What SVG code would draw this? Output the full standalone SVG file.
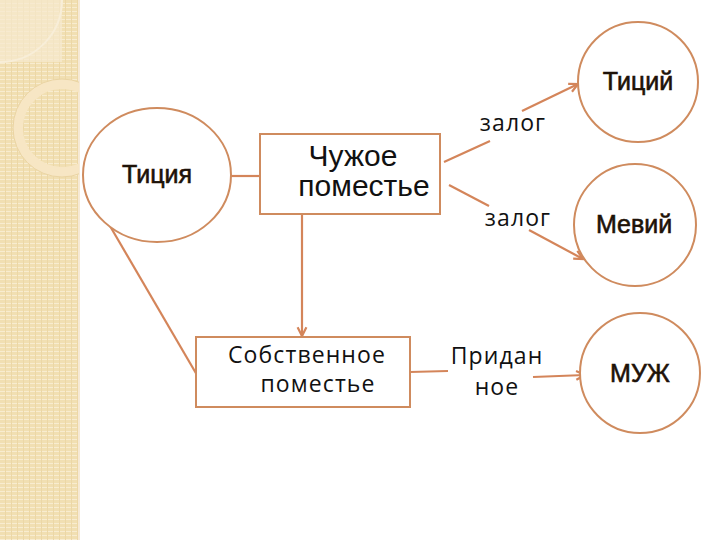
<svg xmlns="http://www.w3.org/2000/svg" width="720" height="540" viewBox="0 0 720 540">
<defs>
<pattern id="stripes" width="6" height="4" patternUnits="userSpaceOnUse">
<rect width="6" height="4" fill="#f1dfb2"/>
<rect y="3" width="6" height="1" fill="#f8ecd0"/>
<rect x="5" width="1" height="4" fill="#ecd7a6"/>
</pattern>
<clipPath id="band"><rect x="0" y="0" width="79" height="540"/></clipPath>
<marker id="arr" viewBox="0 0 10 10" refX="9" refY="5" markerWidth="11" markerHeight="11" markerUnits="userSpaceOnUse" orient="auto" overflow="visible">
<path d="M1,1 L9,5 L1,9" fill="none" stroke="#d4855a" stroke-width="2"/>
</marker>
</defs>
<style>
.node{fill:#fff;stroke:#cf8b5e;stroke-width:2}
.edge{fill:none;stroke:#d4855a;stroke-width:2.2}
.bold{font-family:"Liberation Sans",Arial,sans-serif;font-size:25px;fill:#1e1208;stroke:#1e1208;stroke-width:0.6}
.ar{font-family:"Liberation Sans",Arial,sans-serif;font-size:30px;fill:#111}
.os{font-family:"Open Sans","Noto Sans",sans-serif;font-size:23px;letter-spacing:1.1px;fill:#111}
</style>
<rect width="720" height="540" fill="#fff"/>
<g id="background">
<rect x="0" y="0" width="79" height="540" fill="url(#stripes)"/>
<rect x="78" y="0" width="2" height="540" fill="#f6e9d4"/>
<rect x="0" y="0" width="62" height="62" fill="#f6ead0" opacity="0.7"/>
<path d="M62,0 A62,62 0 0 1 0,62" fill="none" stroke="#f8eed8" stroke-width="2"/>
<g clip-path="url(#band)">
<circle cx="62" cy="128" r="44" fill="none" stroke="#f7e6c4" stroke-width="10"/>
<circle cx="62" cy="128" r="49" fill="none" stroke="#ead4a2" stroke-width="1"/>
</g>
</g>
<g id="connectors">
<line class="edge" x1="231" y1="176" x2="260" y2="176"/>
<line class="edge" x1="110" y1="226" x2="197" y2="375"/>
<line class="edge" x1="302" y1="214" x2="302" y2="336" marker-end="url(#arr)"/>
<line class="edge" x1="444" y1="162" x2="490" y2="141"/>
<line class="edge" x1="522" y1="111" x2="578" y2="84" marker-end="url(#arr)"/>
<line class="edge" x1="449" y1="185" x2="489" y2="206"/>
<line class="edge" x1="529" y1="230" x2="583" y2="259" marker-end="url(#arr)"/>
<line class="edge" x1="410" y1="372" x2="448" y2="371"/>
<line class="edge" x1="533" y1="377" x2="585" y2="375" marker-end="url(#arr)"/>
<text class="os" x="513" y="131" text-anchor="middle">залог</text>
<text class="os" x="518" y="226" text-anchor="middle">залог</text>
<text class="os" x="497" y="364" text-anchor="middle">Придан</text>
<text class="os" x="497" y="395" text-anchor="middle">ное</text>
</g>
<g id="titia">
<ellipse class="node" cx="157" cy="175" rx="74" ry="67"/>
<text class="bold" x="157" y="183" text-anchor="middle">Тиция</text>
</g>
<g id="chuzhoe">
<rect class="node" x="260" y="134" width="180" height="80"/>
<text class="ar" x="353" y="166" text-anchor="middle">Чужое</text>
<text class="ar" x="364" y="196" text-anchor="middle">поместье</text>
</g>
<g id="sobstvennoe">
<rect class="node" x="196" y="337" width="214" height="70"/>
<text class="os" x="307" y="363" text-anchor="middle">Собственное</text>
<text class="os" x="318" y="392" text-anchor="middle">поместье</text>
</g>
<g id="titiy">
<circle class="node" cx="638" cy="82" r="60"/>
<text class="bold" x="638" y="90" text-anchor="middle">Тиций</text>
</g>
<g id="meviy">
<circle class="node" cx="635" cy="225" r="61"/>
<text class="bold" x="634" y="233" text-anchor="middle">Мевий</text>
</g>
<g id="muzh">
<circle class="node" cx="640" cy="373" r="60"/>
<text class="bold" x="640" y="382" text-anchor="middle">МУЖ</text>
</g>
</svg>
